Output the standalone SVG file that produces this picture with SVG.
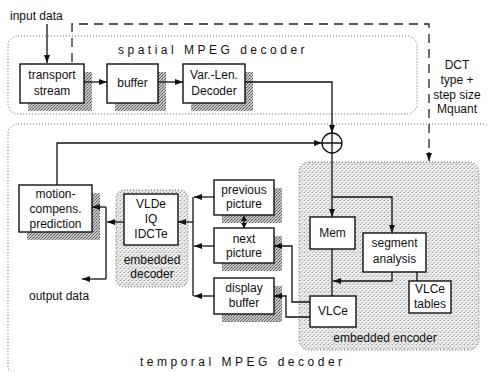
<svg xmlns="http://www.w3.org/2000/svg" width="488" height="372" viewBox="0 0 488 372">
<style>
text{font-family:"Liberation Sans",Arial,sans-serif;font-size:12px;fill:#111}
.c{text-anchor:middle}
.box{fill:#fff;stroke:#111;stroke-width:1.4}
.sh{fill:url(#hatch)}
.reg{stroke:#666;stroke-width:1;stroke-dasharray:1 2}
.ln{fill:none;stroke:#111;stroke-width:1.3}
.dash{fill:none;stroke:#222;stroke-width:1.3;stroke-dasharray:9 6}
.sp{letter-spacing:3.5px}
</style>
<defs>
<pattern id="hatch" width="3" height="3" patternUnits="userSpaceOnUse">
<rect width="3" height="3" fill="#c4c4c4"/>
<rect width="1" height="1" fill="#555"/>
<rect x="2" y="1" width="1" height="1" fill="#6a6a6a"/>
<rect x="1" y="2" width="1" height="1" fill="#777"/>
</pattern>
<pattern id="stip" width="4" height="4" patternUnits="userSpaceOnUse">
<rect width="4" height="4" fill="#ececec"/>
<rect width="1" height="1" fill="#9a9a9a"/>
<rect x="2" y="2" width="1" height="1" fill="#aaa"/>
<rect x="3" y="0" width="1" height="1" fill="#c8c8c8"/>
<rect x="1" y="3" width="1" height="1" fill="#c0c0c0"/>
</pattern>
<marker id="ah" markerWidth="8" markerHeight="6" refX="8" refY="3" orient="auto" markerUnits="userSpaceOnUse">
<path d="M0,0 L8,3 L0,6 z" fill="#111"/>
</marker>
<marker id="as" markerWidth="5" markerHeight="6" refX="5" refY="3" orient="auto-start-reverse" markerUnits="userSpaceOnUse">
<path d="M0,0 L5,3 L0,6 z" fill="#111"/>
</marker>
</defs>
<rect width="488" height="372" fill="#fff"/>

<g id="spatial-decoder">
<rect class="reg" x="8" y="36" width="409" height="78" rx="10" fill="none"/>
<text class="sp" x="118" y="54">spatial MPEG decoder</text>
</g>
<g id="temporal-decoder">
<rect class="reg" x="8" y="124" width="484" height="252" rx="10" fill="none"/>
<text class="sp" x="140" y="366">temporal MPEG decoder</text>
</g>
<g id="embedded-encoder">
<rect class="reg" x="299" y="162" width="180" height="188" rx="10" fill="url(#stip)"/>
<text class="c" x="385" y="342">embedded encoder</text>
</g>
<g id="embedded-decoder">
<rect class="reg" x="116" y="190" width="72" height="97" rx="8" fill="url(#stip)"/>
<text class="c" x="152" y="264">embedded</text>
<text class="c" x="152" y="278">decoder</text>
</g>

<g id="labels">
<text x="10" y="20">input data</text>
<text x="29" y="300">output data</text>
<text class="c" x="457" y="69">DCT</text>
<text class="c" x="457" y="84">type +</text>
<text class="c" x="457" y="99">step size</text>
<text class="c" x="457" y="113">Mquant</text>
</g>

<g id="transport-stream">
<rect class="sh" x="28" y="72" width="64" height="39"/>
<rect class="box" x="20" y="64" width="64" height="39"/>
<text class="c" x="52" y="79">transport</text>
<text class="c" x="52" y="95">stream</text>
</g>
<g id="buffer">
<rect class="sh" x="115" y="72" width="51" height="39"/>
<rect class="box" x="107" y="64" width="51" height="39"/>
<text class="c" x="132.5" y="87">buffer</text>
</g>
<g id="vld">
<rect class="sh" x="191" y="72" width="62" height="39"/>
<rect class="box" x="183" y="64" width="62" height="39"/>
<text class="c" x="214" y="79">Var.-Len.</text>
<text class="c" x="214" y="95">Decoder</text>
</g>
<g id="motion">
<rect class="sh" x="27" y="193" width="73" height="47"/>
<rect class="box" x="19" y="185" width="73" height="47"/>
<text class="c" x="55.5" y="198">motion-</text>
<text class="c" x="55.5" y="213">compens.</text>
<text class="c" x="55.5" y="228">prediction</text>
</g>
<g id="vlde">
<rect class="box" x="124" y="194" width="54" height="51"/>
<text class="c" x="151" y="208">VLDe</text>
<text class="c" x="151" y="223">IQ</text>
<text class="c" x="151" y="238">IDCTe</text>
</g>
<g id="previous-picture">
<rect class="sh" x="222" y="188" width="60" height="35"/>
<rect class="box" x="214" y="180" width="60" height="35"/>
<text class="c" x="244" y="194">previous</text>
<text class="c" x="244" y="208">picture</text>
</g>
<g id="next-picture">
<rect class="sh" x="222" y="236" width="60" height="35"/>
<rect class="box" x="214" y="228" width="60" height="35"/>
<text class="c" x="244" y="243">next</text>
<text class="c" x="244" y="257">picture</text>
</g>
<g id="display-buffer">
<rect class="sh" x="222" y="286" width="60" height="36"/>
<rect class="box" x="214" y="278" width="60" height="36"/>
<text class="c" x="244" y="292">display</text>
<text class="c" x="244" y="307">buffer</text>
</g>
<g id="mem">
<rect class="box" x="310" y="217" width="45" height="32"/>
<text class="c" x="332.5" y="237">Mem</text>
</g>
<g id="segment-analysis">
<rect class="box" x="363" y="233" width="63" height="39"/>
<text class="c" x="394.5" y="247">segment</text>
<text class="c" x="394.5" y="263">analysis</text>
</g>
<g id="vlce-tables">
<rect class="box" x="409" y="281" width="42" height="32"/>
<text class="c" x="430" y="293">VLCe</text>
<text class="c" x="430" y="308">tables</text>
</g>
<g id="vlce">
<rect class="box" x="310" y="296" width="46" height="31"/>
<text class="c" x="333" y="315">VLCe</text>
</g>
<g id="adder">
<circle cx="332" cy="143" r="10" fill="#fff" stroke="#111" stroke-width="1.3"/>
<path class="ln" d="M322,143 H342 M332,133 V153"/>
</g>

<g id="connectors">
<path class="ln" d="M47,24 V63" marker-end="url(#ah)"/>
<path class="ln" d="M84,82 H107" marker-end="url(#ah)"/>
<path class="ln" d="M158,82 H183" marker-end="url(#ah)"/>
<path class="ln" d="M245,82 H332 V133" marker-end="url(#ah)"/>
<path class="dash" d="M72,62 V24 H429 V154"/>
<path class="ln" d="M429,152 V161" marker-end="url(#ah)"/>
<path class="ln" d="M57,185 V143 H322" marker-end="url(#ah)"/>
<path class="ln" d="M332,153 V217" marker-end="url(#ah)"/>
<path class="ln" d="M332,197 H392 V233" marker-end="url(#ah)"/>
<path class="ln" d="M392,272 V281 H333" marker-end="url(#ah)"/>
<path class="ln" d="M417,272 V281"/>
<path class="ln" d="M332,249 V296"/>
<path class="ln" d="M310,302 H292 V246 H274" marker-end="url(#ah)"/>
<path class="ln" d="M310,317 H286 V296 H274" marker-end="url(#ah)"/>
<path class="ln" d="M214,197 H194" marker-end="url(#ah)"/>
<path class="ln" d="M214,246 H194" marker-end="url(#ah)"/>
<path class="ln" d="M214,296 H194" marker-end="url(#ah)"/>
<path class="ln" d="M193,197 V296"/>
<path class="ln" d="M193,222 H178" marker-end="url(#ah)"/>
<path class="ln" d="M244,216 V228" marker-start="url(#as)" marker-end="url(#as)"/>
<path class="ln" d="M124,222 H107" marker-end="url(#ah)"/>
<path class="ln" d="M106,207 V279"/>
<path class="ln" d="M106,207 H92" marker-end="url(#ah)"/>
<path class="ln" d="M106,279 H82" marker-end="url(#ah)"/>
</g>
</svg>
